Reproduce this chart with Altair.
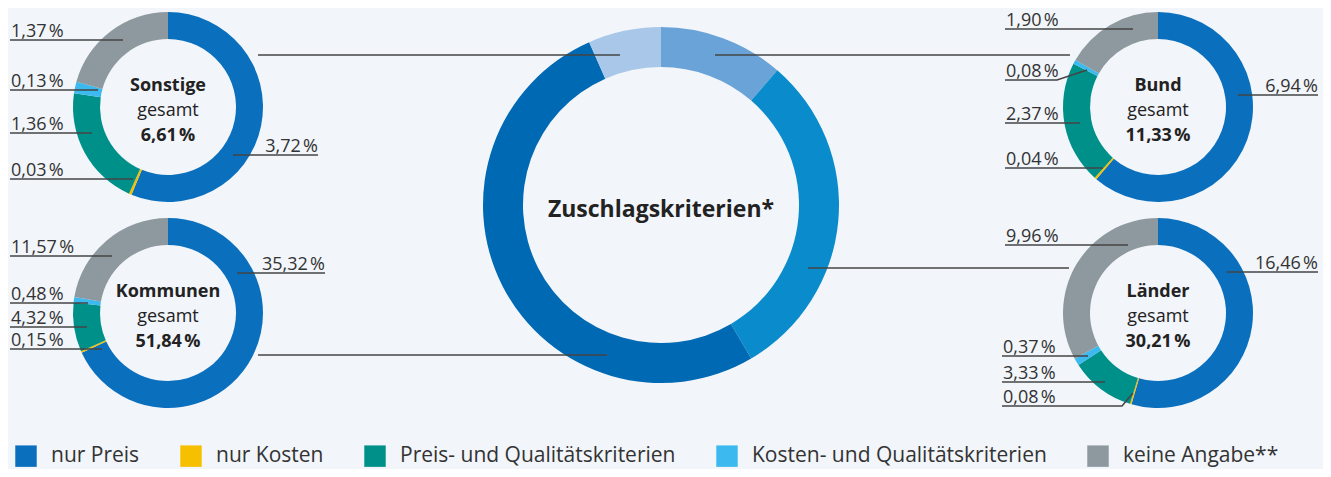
import altair as alt
import pandas as pd

# ---------------- data ----------------
categories = ["nur Preis", "nur Kosten", "Preis- und Qualitätskriterien",
              "Kosten- und Qualitätskriterien", "keine Angabe**"]
groups = ["Sonstige", "Bund", "Länder", "Kommunen"]
totals = [6.61, 11.33, 30.21, 51.84]
sonstige = [3.72, 0.03, 1.36, 0.13, 1.37]
bund = [6.94, 0.04, 2.37, 0.08, 1.90]
laender = [16.46, 0.08, 3.33, 0.37, 9.96]
kommunen = [35.32, 0.15, 4.32, 0.48, 11.57]
series = {"Sonstige": sonstige, "Bund": bund, "Länder": laender, "Kommunen": kommunen}
center_title = "Zuschlagskriterien*"
center_order = ["Bund", "Länder", "Kommunen", "Sonstige"]

# ---------------- styles / layout ----------------
FONT = "Open Sans"
BG = "#f2f5fa"
TXT = "#333333"
LINE = "#444444"
cat_colors = ["#0a6fbd", "#f6bf00", "#00908a", "#3cb9ee", "#8e999f"]
center_colors = {"Bund": "#6aa3d8", "Länder": "#0a8bcc",
                 "Kommunen": "#0069b4", "Sonstige": "#a9c8e9"}
centers = {"Sonstige": (168, 107), "Bund": (1158, 107),
           "Länder": (1158, 313), "Kommunen": (168, 313)}
main_center = (661, 205)
small_r = (68, 95)
main_r = (138, 178)

# leader lines per group and category (polyline points), label side
leaders = {
    "Sonstige": [([(233, 155), (318, 155)], "right"),
                 ([(10, 179), (133, 179)], "left"),
                 ([(10, 133), (92, 133)], "left"),
                 ([(10, 90), (98, 90)], "left"),
                 ([(10, 40), (123, 40)], "left")],
    "Bund": [([(1238, 95), (1318, 95)], "right"),
             ([(1005, 168), (1103, 168)], "left"),
             ([(1005, 123), (1080, 123)], "left"),
             ([(1005, 80), (1057, 80), (1087, 70)], "left"),
             ([(1005, 29), (1133, 29)], "left")],
    "Länder": [([(1227, 272), (1318, 272)], "right"),
               ([(1002, 406), (1122, 406), (1133, 393)], "left"),
               ([(1002, 382), (1105, 382)], "left"),
               ([(1002, 356), (1088, 356)], "left"),
               ([(1005, 245), (1128, 245)], "left")],
    "Kommunen": [([(237, 273), (325, 273)], "right"),
                 ([(10, 349), (102, 349)], "left"),
                 ([(10, 327), (87, 327)], "left"),
                 ([(10, 303), (88, 303)], "left"),
                 ([(10, 256), (112, 256)], "left")],
}
connectors = [[(258, 55), (620, 55)], [(715, 55), (1070, 55)],
              [(808, 268), (1069, 268)], [(258, 355), (607, 355)]]


def fmt(v):
    return f"{v:.2f}".replace(".", ",") + "\u202f%"


xs = alt.Scale(domain=[8, 1323], nice=False, zero=False)
ys = alt.Scale(domain=[8, 469], nice=False, zero=False, reverse=True)
X = lambda f: alt.X(f, type="quantitative", scale=xs, axis=None)
Y = lambda f: alt.Y(f, type="quantitative", scale=ys, axis=None)

layers = []

# small donuts
for g in groups:
    cx, cy = centers[g]
    df = pd.DataFrame({"cat": categories, "value": series[g],
                       "idx": list(range(5)), "cx": cx, "cy": cy})
    layers.append(
        alt.Chart(df).mark_arc(innerRadius=small_r[0], outerRadius=small_r[1])
        .encode(
            x=X("cx"), y=Y("cy"),
            theta=alt.Theta("value:Q", stack=True),
            order=alt.Order("idx:Q"),
            color=alt.Color("cat:N", scale=alt.Scale(domain=categories, range=cat_colors),
                            sort=categories,
                            legend=alt.Legend(
                                title=None, orient="none", direction="horizontal",
                                legendX=7, legendY=437, symbolType="square",
                                symbolSize=460, symbolStrokeWidth=0, labelFont=FONT,
                                labelFontSize=21, labelColor=TXT, labelOffset=14,
                                columnPadding=40, labelLimit=400)),
        )
    )

# central donut
cdf = pd.DataFrame({"grp": center_order,
                    "value": [totals[groups.index(g)] for g in center_order],
                    "idx": list(range(4)),
                    "hex": [center_colors[g] for g in center_order],
                    "cx": main_center[0], "cy": main_center[1]})
layers.append(
    alt.Chart(cdf).mark_arc(innerRadius=main_r[0], outerRadius=main_r[1])
    .encode(x=X("cx"), y=Y("cy"), theta=alt.Theta("value:Q", stack=True),
            order=alt.Order("idx:Q"), fill=alt.Fill("hex:N", scale=None))
)

# lines (connectors and leaders)
rows = []
lid = 0
for pts in connectors:
    for k, (px, py) in enumerate(pts):
        rows.append({"id": lid, "k": k, "px": px, "py": py})
    lid += 1
lab_rows = []
for g in groups:
    for i, (pts, side) in enumerate(leaders[g]):
        for k, (px, py) in enumerate(pts):
            rows.append({"id": lid, "k": k, "px": px, "py": py})
        lid += 1
        if side == "left":
            tx, ty = pts[0][0] + 1, pts[0][1] - 3
        else:
            tx, ty = pts[-1][0], pts[-1][1] - 3
        lab_rows.append({"label": fmt(series[g][i]), "tx": tx, "ty": ty, "side": side})
ldf = pd.DataFrame(rows)
layers.append(
    alt.Chart(ldf).mark_line(color=LINE, strokeWidth=1.5)
    .encode(x=X("px"), y=Y("py"), detail="id:N", order="k:Q")
)

labdf = pd.DataFrame(lab_rows)
for side in ["left", "right"]:
    layers.append(
        alt.Chart(labdf[labdf.side == side]).mark_text(
            align=side, baseline="alphabetic", font=FONT, fontSize=18, color=TXT)
        .encode(x=X("tx"), y=Y("ty"), text="label:N")
    )

# center texts of small donuts
crow = []
for g, t in zip(groups, totals):
    cx, cy = centers[g]
    crow.append({"t": g, "cx": cx, "cy": cy - 21, "w": "bold"})
    crow.append({"t": "gesamt", "cx": cx, "cy": cy + 4, "w": "normal"})
    crow.append({"t": fmt(t), "cx": cx, "cy": cy + 29, "w": "bold"})
crdf = pd.DataFrame(crow)
for w in ["bold", "normal"]:
    layers.append(
        alt.Chart(crdf[crdf.w == w]).mark_text(
            align="center", baseline="middle", font=FONT, fontSize=18,
            fontWeight=w, color="#222222")
        .encode(x=X("cx"), y=Y("cy"), text="t:N")
    )

mdf = pd.DataFrame({"t": [center_title], "cx": [main_center[0]], "cy": [main_center[1] + 5]})
layers.append(
    alt.Chart(mdf).mark_text(align="center", baseline="middle", font=FONT,
                             fontSize=23, fontWeight="bold", color="#222222")
    .encode(x=X("cx"), y=Y("cy"), text="t:N")
)

chart = (
    alt.layer(*layers)
    .resolve_scale(theta="independent")
    .properties(width=1315, height=461, background=BG, padding=0,
                autosize=alt.AutoSizeParams(type="none"))
    .configure_view(stroke=None)
)
chart.save("out.html", embed_options={"renderer": "svg", "actions": False})
